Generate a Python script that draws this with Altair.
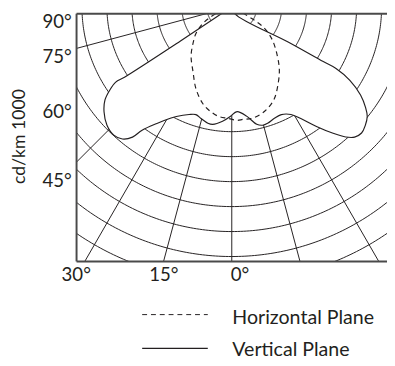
import altair as alt
import numpy as np
import pandas as pd

# ---------------- data ----------------
# Vertical plane (solid, filled white): angle from nadir in degrees (left negative), intensity (cd/klm)
vp_angle = [-56.5, -56.3, -56.7, -57.0, -55.7, -53.7, -50.6, -46.5, -42.6, -39.6, -37.3, -36.0,
            -32.7, -29.1, -26.8, -21.6, -18.4, -15.4, -11.6, -9.2, -4.6, -0.8, 2.9, 7.9, 12.0,
            14.6, 17.1, 20.9, 24.7, 28.8, 31.7, 35.3, 38.7, 41.2, 43.3, 45.8, 48.4, 51.0, 53.0,
            55.6, 58.1, 59.4, 59.1, 58.0, 25.0, 0.0]
vp_intensity = [0, 247, 514, 554, 591, 630, 662, 689, 698, 687, 656, 611,
                555, 512, 492, 464, 455, 464, 476, 477, 460, 439, 420, 443, 481,
                490, 488, 478, 475, 492, 526, 587, 649, 693, 717, 725, 715, 698, 671,
                625, 557, 485, 427, 266, 32, 0]

# Horizontal plane (dashed)
hp_angle = [-65.2, -65.2, -60.0, -53.5, -46.9, -39.7, -30.5, -23.5, -16.6, -11.4, -6.9, -1.8,
            2.7, 5.7, 10.2, 15.6, 19.3, 24.8, 31.7, 37.2, 42.9, 50.7, 56.7, 59.7, 59.7]
hp_intensity = [0, 84, 134, 178, 212, 255, 305, 359, 405, 428, 442, 447,
                455, 453, 454, 444, 432, 406, 355, 315, 268, 210, 157, 93, 0]

ring_values = [100, 200, 300, 400, 500, 600, 700, 800, 900, 1000, 1100]
radial_angles = [-75, -45, -30, -15, 0, 15, 30]

left_labels = ["90°", "75°", "60°", "45°"]
left_label_y = [-86, -224, -447, -722]
left_label_x = [-641, -641, -641, -641]
bottom_labels = ["30°", "15°", "0°"]
bottom_label_x = [-623, -272, 33]
bottom_label_y = [-1098, -1098, -1098]
legend_labels = ["Horizontal Plane", "Vertical Plane"]
y_title = "cd/km 1000"

X_DOMAIN = [-621.6, 621.6]
Y_DOMAIN = [-1019.6, -27.5]

FONT = "Lato"
INK = "#231f20"
FRAME = "#4a4a4a"


def to_xy(angles, vals):
    t = np.radians(np.asarray(angles, dtype=float))
    v = np.asarray(vals, dtype=float)
    return v * np.sin(t), -v * np.cos(t)


# grid circles
rows = []
for r in ring_values:
    for i, a in enumerate(np.linspace(-90, 90, 241)):
        x, y = to_xy([a], [r])
        rows.append({"ring": r, "i": i, "x": x[0], "y": y[0]})
circles = pd.DataFrame(rows)

rows = []
for a in radial_angles:
    for i, r in enumerate([0, 1400]):
        x, y = to_xy([a], [r])
        rows.append({"ang": a, "i": i, "x": x[0], "y": y[0]})
radials = pd.DataFrame(rows)

vx, vy = to_xy(vp_angle, vp_intensity)
vertical = pd.DataFrame({"x": vx, "y": vy, "i": range(len(vx))})
hx, hy = to_xy(hp_angle, hp_intensity)
horizontal = pd.DataFrame({"x": hx, "y": hy, "i": range(len(hx))})

xs = alt.Scale(domain=X_DOMAIN, nice=False, zero=False)
ys = alt.Scale(domain=Y_DOMAIN, nice=False, zero=False)
X = lambda f: alt.X(f, scale=xs, axis=None)
Y = lambda f: alt.Y(f, scale=ys, axis=None)

grid_c = alt.Chart(circles).mark_line(clip=True, stroke=INK, strokeWidth=1).encode(
    x=X("x:Q"), y=Y("y:Q"), detail="ring:N", order="i:Q")

grid_r = alt.Chart(radials).mark_line(clip=True, stroke=INK, strokeWidth=1).encode(
    x=X("x:Q"), y=Y("y:Q"), detail="ang:N", order="i:Q")

vert = alt.Chart(vertical).mark_line(clip=True, fill="white", stroke=INK, strokeWidth=1.2,
                                     interpolate="catmull-rom").encode(
    x=X("x:Q"), y=Y("y:Q"), order="i:Q")

horiz = alt.Chart(horizontal).mark_line(clip=True, stroke=INK, strokeWidth=1.2,
                                        strokeDash=[5, 4], interpolate="catmull-rom").encode(
    x=X("x:Q"), y=Y("y:Q"), order="i:Q")

# frame: top, left, bottom (no right edge)
frame_h = alt.Chart(pd.DataFrame({"x": [X_DOMAIN[0]] * 2, "x2": [X_DOMAIN[1]] * 2, "y": Y_DOMAIN})) \
    .mark_rule(stroke=FRAME, strokeWidth=2).encode(x=X("x:Q"), x2="x2:Q", y=Y("y:Q"))
frame_v = alt.Chart(pd.DataFrame({"x": [X_DOMAIN[0]], "y": [Y_DOMAIN[0]], "y2": [Y_DOMAIN[1]]})) \
    .mark_rule(stroke=FRAME, strokeWidth=2).encode(x=X("x:Q"), y=Y("y:Q"), y2="y2:Q")

left_txt = alt.Chart(pd.DataFrame({"t": left_labels, "x": left_label_x, "y": left_label_y})) \
    .mark_text(align="right", baseline="alphabetic", font=FONT, fontSize=19, color=INK).encode(
    x=X("x:Q"), y=Y("y:Q"), text="t:N")

bottom_txt = alt.Chart(pd.DataFrame({"t": bottom_labels, "x": bottom_label_x, "y": bottom_label_y})) \
    .mark_text(align="center", baseline="alphabetic", font=FONT, fontSize=19, color=INK).encode(
    x=X("x:Q"), y=Y("y:Q"), text="t:N")

title_txt = alt.Chart(pd.DataFrame({"t": [y_title]})).mark_text(
    angle=270, align="center", baseline="middle", font=FONT, fontSize=18, color=INK).encode(
    x=alt.value(-58), y=alt.value(125.5), text="t:N")

leg_dash = alt.Chart(pd.DataFrame({"k": [legend_labels[0]]})).mark_rule(
    stroke=INK, strokeWidth=1, strokeDash=[5, 4]).encode(
    x=alt.value(67), x2=alt.value(134), y=alt.value(307.3))
leg_solid = alt.Chart(pd.DataFrame({"k": [legend_labels[1]]})).mark_rule(
    stroke=INK, strokeWidth=1.2).encode(
    x=alt.value(67), x2=alt.value(134), y=alt.value(341.7))
leg_t1 = alt.Chart(pd.DataFrame({"t": [legend_labels[0]]})).mark_text(
    align="left", baseline="alphabetic", font=FONT, fontSize=20, color=INK).encode(
    x=alt.value(159), y=alt.value(316.5), text="t:N")
leg_t2 = alt.Chart(pd.DataFrame({"t": [legend_labels[1]]})).mark_text(
    align="left", baseline="alphabetic", font=FONT, fontSize=20, color=INK).encode(
    x=alt.value(159), y=alt.value(350), text="t:N")

chart = alt.layer(grid_c, grid_r, vert, horiz, frame_h, frame_v, left_txt, bottom_txt,
                  title_txt, leg_dash, leg_solid, leg_t1, leg_t2).properties(
    width=317, height=253,
    autosize=alt.AutoSizeParams(type="none"),
    padding={"left": 70, "top": 2, "right": 0, "bottom": 103},
).configure_view(stroke=None)

chart.save("out.html", embed_options={"renderer": "svg", "actions": False})
